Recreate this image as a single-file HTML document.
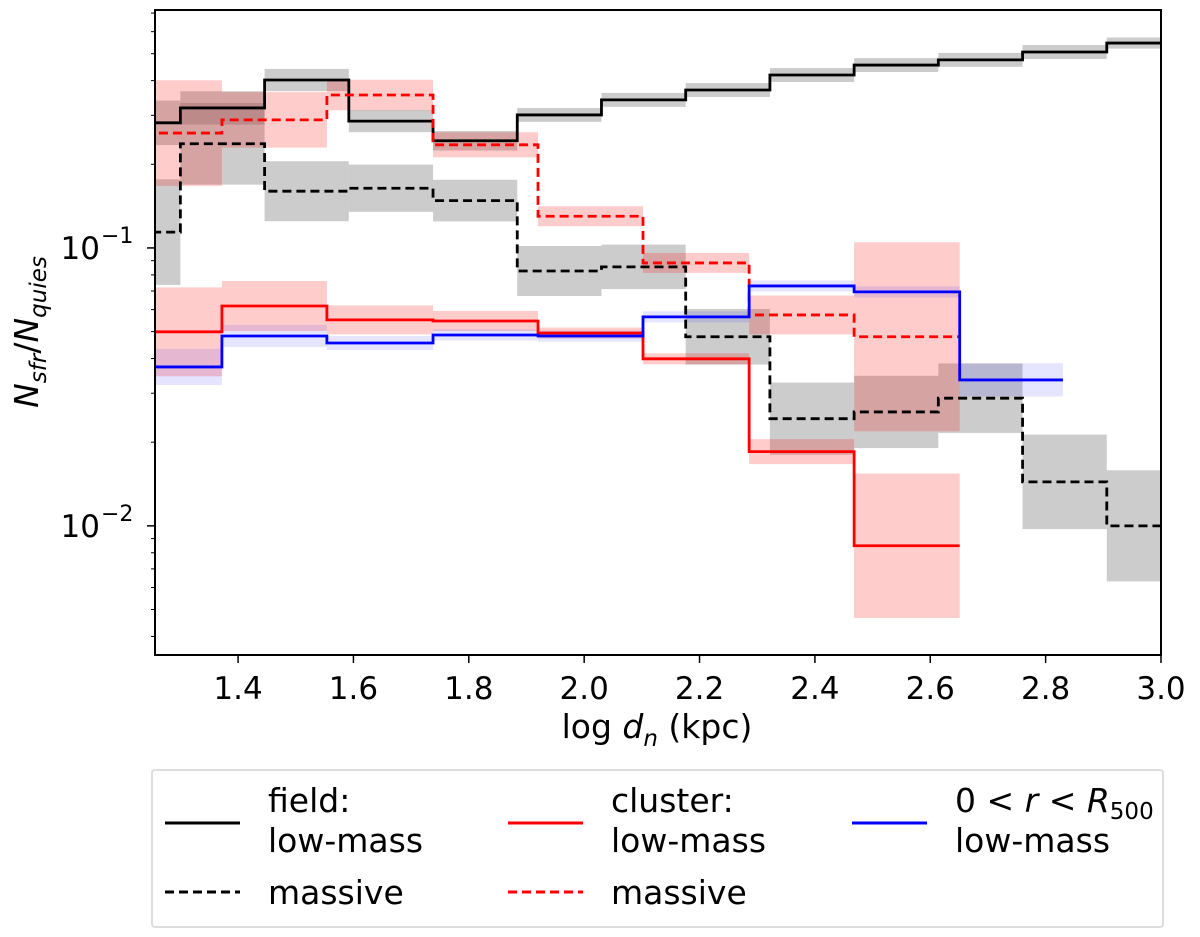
<!DOCTYPE html>
<html><head><meta charset="utf-8"><style>
html,body{margin:0;padding:0;background:#fff;}
svg{display:block;font-family:"DejaVu Sans","Liberation Sans",sans-serif;}
</style></head><body>
<svg id="chart" width="1200" height="937" viewBox="0 0 1200 937" xmlns="http://www.w3.org/2000/svg">
<defs><clipPath id="clip"><rect x="155" y="10" width="1006" height="645"/></clipPath></defs>
<g id="bands" clip-path="url(#clip)"></g>
<g id="lines" clip-path="url(#clip)"></g>
<rect x="155" y="10" width="1006" height="645" fill="none" stroke="#000" stroke-width="2"/>
<g id="axes"></g>
<text x="657" y="738" font-size="33" text-anchor="middle">log <tspan font-style="italic">d</tspan><tspan font-style="italic" font-size="23" dy="8">n</tspan><tspan dy="-8"> (kpc)</tspan></text>
<text transform="translate(38,332) rotate(-90)" font-size="33" text-anchor="middle"><tspan font-style="italic">N</tspan><tspan font-style="italic" font-size="23" dy="8">sfr</tspan><tspan dy="-8">/</tspan><tspan font-style="italic">N</tspan><tspan font-style="italic" font-size="23" dy="8">quies</tspan></text>
<g>
<rect x="152" y="770" width="1011" height="157" fill="#fff" stroke="#ddd" stroke-width="2" rx="3"/>
<line x1="165" y1="823" x2="240" y2="823" stroke="#000" stroke-width="3"/>
<text x="268" y="812" font-size="33">field:</text>
<text x="268" y="852" font-size="33">low-mass</text>
<line x1="165" y1="892" x2="240" y2="892" stroke="#000" stroke-width="3" stroke-dasharray="9,5"/>
<text x="268" y="904" font-size="33">massive</text>
<line x1="508" y1="823" x2="583" y2="823" stroke="#f00" stroke-width="3"/>
<text x="611" y="812" font-size="33">cluster:</text>
<text x="611" y="852" font-size="33">low-mass</text>
<line x1="508" y1="892" x2="583" y2="892" stroke="#f00" stroke-width="3" stroke-dasharray="9,5"/>
<text x="611" y="904" font-size="33">massive</text>
<line x1="852" y1="823" x2="927" y2="823" stroke="#00f" stroke-width="3"/>
<text x="955" y="812" font-size="33">0 &lt; <tspan font-style="italic">r</tspan> &lt; <tspan font-style="italic">R</tspan><tspan font-size="23" dy="7">500</tspan></text>
<text x="955" y="852" font-size="33">low-mass</text>
</g>
</svg>
<script>
// x bin edges (log d_n)
const fieldEdges = [1.154,1.30,1.446,1.592,1.738,1.884,2.03,2.176,2.322,2.468,2.614,2.76,2.906,3.052];
const clusterEdges = [1.19,1.372,1.554,1.738,1.92,2.102,2.286,2.468,2.651,2.83];
// series values
const fieldLow = [0.282,0.319,0.402,0.286,0.243,0.301,0.341,0.370,0.419,0.455,0.475,0.507,0.546];
const fieldLowErrDex = [0.08,0.06,0.04,0.04,0.035,0.025,0.025,0.025,0.025,0.025,0.025,0.025,0.02];
const fieldMassive = [0.114,0.237,0.160,0.164,0.148,0.0826,0.0855,0.0479,0.0243,0.0257,0.0288,0.0144,0.0100];
const fieldMassiveErrDex = [0.19,0.147,0.108,0.085,0.075,0.09,0.08,0.10,0.13,0.13,0.125,0.17,0.2];
const clusterLow = [0.0499,0.0618,0.0551,0.0546,0.0494,0.0399,0.0185,0.00848];
const clusterLowErrDex = [0.16,0.09,0.052,0.036,0.02,0.02,0.045,0.26];
const clusterMassive = [0.259,0.289,0.355,0.235,0.130,0.0883,0.0574,0.0479];
const clusterMassiveErrDex = [0.19,0.1,0.055,0.045,0.036,0.036,0.07,0.34];
const r500Low = [0.0373,0.0482,0.0455,0.0486,0.0482,0.0565,0.0730,0.0695,0.0335];
const r500LowErrDex = [0.065,0.04,0.025,0.02,0.02,0.02,0.02,0.02,0.06];
const xTicks = [1.4,1.6,1.8,2.0,2.2,2.4,2.6,2.8,3.0];
const xTickLabels = ["1.4","1.6","1.8","2.0","2.2","2.4","2.6","2.8","3.0"];
const yMajor = [-1,-2];

const NS = "http://www.w3.org/2000/svg";
const X0=155,X1=1161,Y0=10,Y1=655;
const xmin=1.256,xmax=3.0, ymaxL=Math.log10(0.718), yminL=Math.log10(0.00343);
function xs(v){return X0+(v-xmin)/(xmax-xmin)*(X1-X0);}
function ys(v){return Y0+(ymaxL-Math.log10(v))/(ymaxL-yminL)*(Y1-Y0);}
function mk(tag,attrs,parent){const e=document.createElementNS(NS,tag);for(const k in attrs)e.setAttribute(k,attrs[k]);parent.appendChild(e);return e;}

const bands=document.getElementById('bands'), lines=document.getElementById('lines'), axes=document.getElementById('axes');
const series=[
 {name:'field-massive',e:fieldEdges,v:fieldMassive,err:fieldMassiveErrDex,fill:'rgba(128,128,128,0.4)',stroke:'#000',dash:'9,5'},
 {name:'field-low',e:fieldEdges,v:fieldLow,err:fieldLowErrDex,fill:'rgba(128,128,128,0.4)',stroke:'#000',dash:''},
 {name:'cluster-massive',e:clusterEdges,v:clusterMassive,err:clusterMassiveErrDex,fill:'rgba(255,0,0,0.2)',stroke:'#f00',dash:'9,5'},
 {name:'cluster-low',e:clusterEdges,v:clusterLow,err:clusterLowErrDex,fill:'rgba(255,0,0,0.2)',stroke:'#f00',dash:''},
 {name:'r500-low',e:clusterEdges,v:r500Low,err:r500LowErrDex,fill:'rgba(0,0,255,0.1)',stroke:'#00f',dash:''}
];
series.forEach(s=>{
  s.v.forEach((v,i)=>{
    const hi=v*Math.pow(10,s.err[i]), lo=v/Math.pow(10,s.err[i]);
    const r=mk('rect',{x:xs(s.e[i]),y:ys(hi),width:xs(s.e[i+1])-xs(s.e[i]),height:ys(lo)-ys(hi),fill:s.fill},bands);
    
    
  });
});
series.forEach(s=>{
  let d='';
  s.v.forEach((v,i)=>{
    d+=(i===0?'M':'L')+xs(s.e[i])+','+ys(v)+'L'+xs(s.e[i+1])+','+ys(v);
  });
  const p=mk('path',{d:d,fill:'none',stroke:s.stroke,'stroke-width':2.8,'stroke-dasharray':s.dash},lines);
  
  
});
xTicks.forEach((t,i)=>{
  const x=xs(t);
  const l=mk('line',{x1:x,y1:Y1,x2:x,y2:Y1+8,stroke:'#000','stroke-width':1.5},axes);
  
  
  const tx=mk('text',{x:x,y:699,'font-size':31,'text-anchor':'middle'},axes);
  tx.textContent=xTickLabels[i];
  
  
});
for(let dec=-3;dec<=-1;dec++){
  for(let m=1;m<10;m++){
    const v=m*Math.pow(10,dec); const y=ys(v);
    if(y<Y0-0.5||y>Y1+0.5) continue;
    const major=(m===1);
    const l=mk('line',{x1:X0,y1:y,x2:X0-(major?8:4),y2:y,stroke:'#000','stroke-width':major?1.5:1},axes);
    
    
  }
}
yMajor.forEach(p=>{
  const y=ys(Math.pow(10,p));
  const t=mk('text',{x:100,y:y+11,'font-size':31,'text-anchor':'end'},axes);
  t.textContent='10';
  const s=mk('text',{x:101,y:y-5,'font-size':22},axes);
  s.textContent='\u2212'+Math.abs(p);
  
  
  
  
});
</script>
</body></html>
